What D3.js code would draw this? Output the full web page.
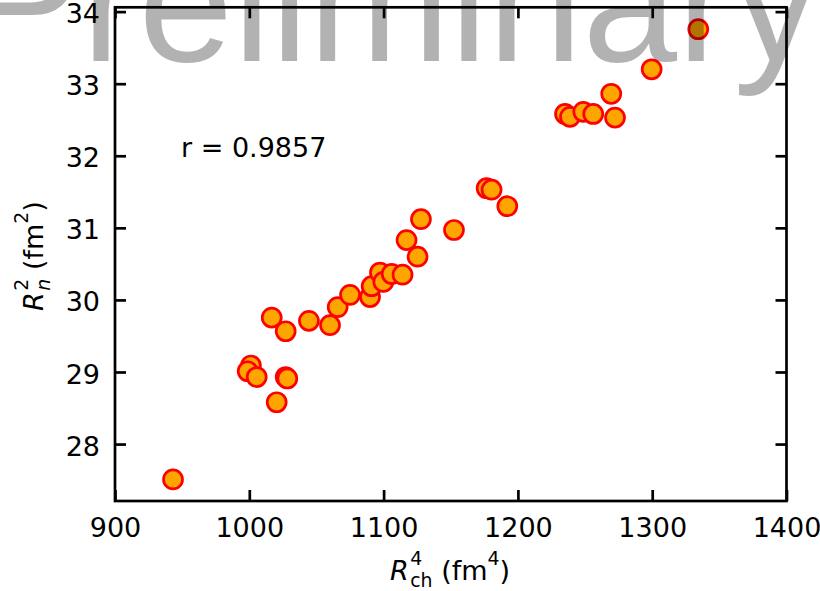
<!DOCTYPE html>
<html><head><meta charset="utf-8">
<script src="https://cdn.jsdelivr.net/npm/d3@7"></script>
<style>body{margin:0;background:#fff} svg{display:block;background:#fff}</style>
</head><body><svg id="c" width="820" height="591"></svg>
<script>
// ---- data ----
const xValues = [943.2, 1001.2, 998.8, 1005.5, 1016.7, 1027.1, 1027.1, 1028.3, 1020.4, 1044.4,
                 1060.1, 1065.8, 1075.0, 1089.9, 1091.1, 1097.3, 1099.8, 1106.0, 1114.1, 1117.1,
                 1125.3, 1127.8, 1152.4, 1176.7, 1180.4, 1192.1, 1235.1, 1238.8, 1248.7, 1256.1,
                 1272.3, 1269.5, 1299.6, 1334.3];
const yValues = [27.51, 29.09, 29.01, 28.93, 29.755, 29.565, 28.93, 28.91, 28.58, 29.71,
                 29.65, 29.90, 30.07, 30.04, 30.19, 30.38, 30.25, 30.36, 30.35, 30.83,
                 30.60, 31.12, 30.97, 31.55, 31.53, 31.30, 32.58, 32.54, 32.61, 32.58,
                 32.53, 32.86, 33.20, 33.756];
const xTicks = [900, 1000, 1100, 1200, 1300, 1400];
const yTicks = [28, 29, 30, 31, 32, 33, 34];
const xLimits = [900, 1400];
const yLimits = [27.21, 34.06];
const annotationText = "r = 0.9857";
const watermarkText = "Preliminary";

// ---- layout ----
const svg = d3.select("#c");
const L = 115, R = 786.5, T = 7.3, B = 501;
const FS = 27, FONT = "DejaVu Sans";
const x = d3.scaleLinear().domain(xLimits).range([L, R]);
const y = d3.scaleLinear().domain(yLimits).range([B, T]);

svg.append("rect").attr("width", 820).attr("height", 591).attr("fill", "#fff");

// points
svg.append("g").selectAll("circle")
  .data(xValues.map((d, i) => [d, yValues[i]]))
  .join("circle")
  .attr("cx", d => x(d[0])).attr("cy", d => y(d[1]))
  .attr("r", 9.5)
  .attr("fill", "#FFA500").attr("stroke", "#FF0000").attr("stroke-width", 2.7);

// watermark
svg.append("text")
  .attr("x", -31.6).attr("y", 61)
  .attr("font-family", "Liberation Sans").attr("font-size", 170)
  .attr("fill", "#000").attr("fill-opacity", 0.3)
  .text(watermarkText);

// axes
function styleAxis(g) {
  g.select(".domain").remove();
  g.selectAll(".tick line").attr("stroke", "#000").attr("stroke-width", 2.7);
  g.attr("font-family", FONT).attr("font-size", FS);
  g.selectAll(".tick text").attr("fill", "#000");
}
svg.append("g").attr("transform", `translate(0,${B})`)
  .call(d3.axisBottom(x).tickValues(xTicks).tickSizeInner(-11).tickSizeOuter(0).tickPadding(16.5).tickFormat(d3.format("d")))
  .call(styleAxis);
svg.append("g").attr("transform", `translate(0,${T})`)
  .call(d3.axisTop(x).tickValues(xTicks).tickSizeInner(-11).tickSizeOuter(0).tickFormat(""))
  .call(styleAxis);
svg.append("g").attr("transform", `translate(${L},0)`)
  .call(d3.axisLeft(y).tickValues(yTicks).tickSizeInner(-11).tickSizeOuter(0).tickPadding(15).tickFormat(d3.format("d")))
  .call(styleAxis)
  .selectAll(".tick text").attr("dy", "0.41em");
svg.append("g").attr("transform", `translate(${R},0)`)
  .call(d3.axisRight(y).tickValues(yTicks).tickSizeInner(-11).tickSizeOuter(0).tickFormat(""))
  .call(styleAxis);

// frame
svg.append("rect").attr("x", L).attr("y", T).attr("width", R - L).attr("height", B - T)
  .attr("fill", "none").attr("stroke", "#000").attr("stroke-width", 2.7);

// annotation
svg.append("text").attr("x", 181).attr("y", 157)
  .attr("font-family", FONT).attr("font-size", FS).attr("fill", "#000")
  .text(annotationText);

// math labels
function mathLabel(g, parts) {
  let cx = 0;
  const small = FS * 0.7, supShift = 15, subShift = 6.5;
  parts.forEach(p => {
    if (p.space) { cx += 0.318 * FS; return; }
    if (p.t !== undefined) {
      const e = g.append("text").attr("x", cx).attr("y", 0)
        .attr("font-size", FS).attr("font-style", p.italic ? "italic" : "normal").text(p.t);
      cx += e.node().getComputedTextLength() + (p.italic ? 1.5 : 0);
    } else {
      let w = 0;
      if (p.sup) {
        const e = g.append("text").attr("x", cx).attr("y", -supShift).attr("font-size", small).text(p.sup);
        w = Math.max(w, e.node().getComputedTextLength());
      }
      if (p.sub) {
        const e = g.append("text").attr("x", cx).attr("y", subShift).attr("font-size", small)
          .attr("font-style", p.subItalic ? "italic" : "normal").text(p.sub);
        w = Math.max(w, e.node().getComputedTextLength());
      }
      cx += w;
    }
  });
  return cx;
}
const xl = svg.append("g").attr("font-family", FONT).attr("fill", "#000");
const xlIn = xl.append("g");
const wx = mathLabel(xlIn, [{t: "R", italic: true}, {sup: "4", sub: "ch"}, {space: true}, {t: "(fm"}, {sup: "4"}, {t: ")"}]);
xl.attr("transform", `translate(${450 - wx / 2},580)`);

const yl = svg.append("g").attr("font-family", FONT).attr("fill", "#000");
const ylIn = yl.append("g");
const wy = mathLabel(ylIn, [{t: "R", italic: true}, {sup: "2", sub: "n", subItalic: true}, {space: true}, {t: "(fm"}, {sup: "2"}, {t: ")"}]);
yl.attr("transform", `translate(43,256) rotate(-90) translate(${-wy / 2},0)`);
</script>
</body></html>
